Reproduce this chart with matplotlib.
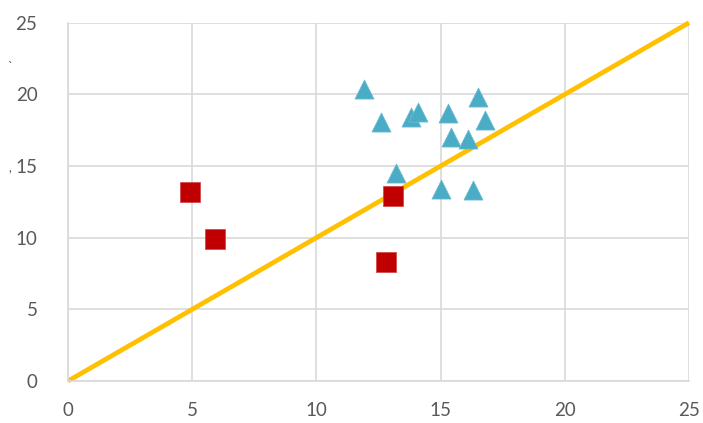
import matplotlib
matplotlib.use("Agg")
import matplotlib.pyplot as plt

tri_x = [11.9, 12.6, 13.8, 14.1, 15.3, 16.5, 16.8, 15.4, 16.1, 13.2, 15.0, 16.3]
tri_y = [20.4, 18.1, 18.4, 18.8, 18.7, 19.8, 18.2, 17.0, 16.9, 14.5, 13.4, 13.3]
sq_x = [4.9, 5.9, 13.1, 12.8]
sq_y = [13.2, 9.9, 12.9, 8.3]
line_x = [0, 25]
line_y = [0, 25]
ticks = [0, 5, 10, 15, 20, 25]

plt.rcParams['font.family'] = ['Lato', 'DejaVu Sans']
fig = plt.figure(figsize=(7.03, 4.23), dpi=100)
ax = fig.add_axes([68/703, 1-381/423, (689-68)/703, (381-22.7)/423])

ax.plot(line_x, line_y, color='#FFC000', lw=3.4, zorder=2, solid_capstyle='butt', clip_on=False)
ax.scatter(tri_x, tri_y, marker='^', s=190, color='#4BACC6', edgecolors='#6FBFD4', linewidths=0.5, zorder=3)
ax.scatter(sq_x, sq_y, marker='s', s=210, color='#C00000', edgecolors='#D04040', linewidths=0.5, zorder=4)

ax.set_xlim(0, 25)
ax.set_ylim(0, 25)
ax.set_xticks(ticks)
ax.set_yticks(ticks)
ax.grid(True, color='#D9D9D9', lw=1.2, zorder=0)
ax.set_axisbelow(True)
for s in ['top', 'right']:
    ax.spines[s].set_visible(False)
for s in ['left', 'bottom']:
    ax.spines[s].set_color('#D9D9D9')
    ax.spines[s].set_linewidth(1.2)
ax.tick_params(length=0, labelsize=13.5, colors='#595959')
ax.tick_params(axis='y', pad=22)
ax.tick_params(axis='x', pad=15)

fig.text(10/703, 1-67/423, '`', color='#595959', fontsize=9, ha='center', va='center')
fig.text(10/703, 1-168/423, ',', color='#595959', fontsize=9, ha='center', va='center')

fig.savefig('out.png', dpi=100)
